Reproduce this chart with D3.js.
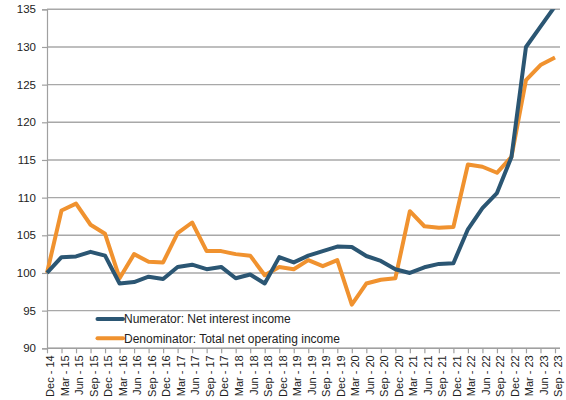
<!DOCTYPE html>
<html>
<head>
<meta charset="utf-8">
<script src="https://cdn.jsdelivr.net/npm/d3@7"></script>
<style>
  html, body { margin: 0; padding: 0; background: #fff; }
  svg { display: block; font-family: "Liberation Sans", Arial, sans-serif; }
</style>
</head>
<body>
<svg id="chart" width="566" height="400"></svg>
<script>
// Quarter labels (Dec 2014 = 100)
const quarters = [
  "Dec - 14", "Mar - 15", "Jun - 15", "Sep - 15", "Dec - 15",
  "Mar - 16", "Jun - 16", "Sep - 16", "Dec - 16",
  "Mar - 17", "Jun - 17", "Sep - 17", "Dec - 17",
  "Mar - 18", "Jun - 18", "Sep - 18", "Dec - 18",
  "Mar - 19", "Jun - 19", "Sep - 19", "Dec - 19",
  "Mar - 20", "Jun - 20", "Sep - 20", "Dec - 20",
  "Mar - 21", "Jun - 21", "Sep - 21", "Dec - 21",
  "Mar - 22", "Jun - 22", "Sep - 22", "Dec - 22",
  "Mar - 23", "Jun - 23", "Sep - 23"
];

// Numerator: net interest income index
const netInterestIncome = [
  100.0, 102.1, 102.2, 102.8, 102.3,
  98.6, 98.8, 99.5, 99.2,
  100.8, 101.1, 100.5, 100.8,
  99.3, 99.8, 98.6, 102.1,
  101.4, 102.3, 102.9, 103.5,
  103.45, 102.25, 101.6, 100.5,
  100.0, 100.75, 101.2, 101.3,
  105.8, 108.6, 110.6, 115.4,
  130.0, 132.7, 135.4
];

// Denominator: total net operating income index
const totalNetOperatingIncome = [
  100.0, 108.3, 109.2, 106.4, 105.2,
  99.3, 102.5, 101.5, 101.4,
  105.3, 106.7, 102.9, 102.9,
  102.5, 102.3, 99.7, 100.8,
  100.5, 101.7, 100.9, 101.7,
  95.8, 98.6, 99.1, 99.3,
  108.2, 106.2, 106.0, 106.1,
  114.4, 114.1, 113.3, 115.4,
  125.6, 127.6, 128.6
];

const yTicks = [90, 95, 100, 105, 110, 115, 120, 125, 130, 135];

const seriesNames = [
  "Numerator: Net interest income",
  "Denominator: Total net operating income"
];
const seriesColors = ["#2b5673", "#f0922f"];

const svg = d3.select("#chart");

const plot = { left: 47, right: 560, top: 9.3, bottom: 348.3 };

const x = d3.scalePoint()
  .domain(quarters)
  .range([plot.left, 555]);

const y = d3.scaleLinear()
  .domain([90, 135])
  .range([plot.bottom, plot.top]);

// Horizontal gridlines
svg.append("g")
  .selectAll("line")
  .data(yTicks)
  .join("line")
  .attr("x1", plot.left)
  .attr("x2", plot.right)
  .attr("y1", d => y(d))
  .attr("y2", d => y(d))
  .attr("stroke", "#a8a8a8")
  .attr("stroke-width", 1.4);

// Y axis
const yAxis = svg.append("g")
  .attr("transform", `translate(${plot.left},0)`)
  .call(d3.axisLeft(y).tickValues(yTicks).tickSize(5).tickPadding(6).tickFormat(d3.format("d")));
yAxis.select(".domain").attr("stroke", "#a0a0a0").attr("stroke-width", 1.2);
yAxis.selectAll(".tick line").attr("stroke", "#a0a0a0").attr("stroke-width", 1.2);
yAxis.selectAll(".tick text")
  .attr("font-size", "11.5px")
  .attr("fill", "#222")
  .attr("font-family", "'Liberation Sans', Arial, sans-serif");

// X axis
const xAxis = svg.append("g")
  .attr("transform", `translate(0,${plot.bottom})`)
  .call(d3.axisBottom(x).tickSize(5).tickSizeOuter(0));
xAxis.select(".domain")
  .attr("d", `M${plot.left},0H${plot.right}`)
  .attr("stroke", "#a0a0a0").attr("stroke-width", 1.2);
xAxis.selectAll(".tick line").attr("stroke", "#a0a0a0").attr("stroke-width", 1.2);
xAxis.selectAll(".tick text")
  .attr("font-size", "11px")
  .attr("fill", "#222")
  .attr("font-family", "'Liberation Sans', Arial, sans-serif")
  .attr("text-anchor", "end")
  .attr("transform", "rotate(-90)")
  .attr("x", -7)
  .attr("y", 0)
  .attr("dy", "0.62em");

// Plot-area clip so the series stop at the top gridline
svg.append("clipPath").attr("id", "plot-clip")
  .append("rect")
  .attr("x", 0).attr("y", plot.top)
  .attr("width", 566).attr("height", plot.bottom - plot.top + 10);

const line = d3.line()
  .x((d, i) => x(quarters[i]))
  .y(d => y(d));

const series = [totalNetOperatingIncome, netInterestIncome];
const colorsInDrawOrder = [seriesColors[1], seriesColors[0]];

svg.append("g")
  .attr("clip-path", "url(#plot-clip)")
  .selectAll("path")
  .data(series)
  .join("path")
  .attr("d", line)
  .attr("fill", "none")
  .attr("stroke", (d, i) => colorsInDrawOrder[i])
  .attr("stroke-width", 4)
  .attr("stroke-linejoin", "round");

// Legend
const legend = svg.append("g");
const legendRows = [319, 338.3];
seriesNames.forEach((name, i) => {
  legend.append("line")
    .attr("x1", 97.5).attr("x2", 123)
    .attr("y1", legendRows[i]).attr("y2", legendRows[i])
    .attr("stroke", seriesColors[i])
    .attr("stroke-width", 4)
    .attr("stroke-linecap", "round");
  legend.append("text")
    .attr("x", 124)
    .attr("y", legendRows[i])
    .attr("dy", "0.36em")
    .attr("font-size", "12px")
    .attr("fill", "#222")
    .text(name);
});
</script>
</body>
</html>
